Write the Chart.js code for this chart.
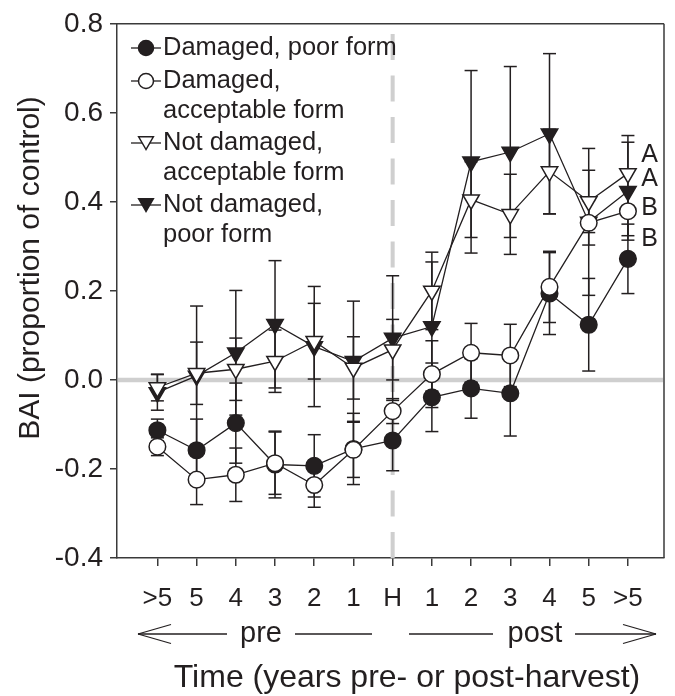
<!DOCTYPE html>
<html>
<head>
<meta charset="utf-8">
<script src="https://cdn.jsdelivr.net/npm/chart.js@4.4.1/dist/chart.umd.min.js"></script>
<style>
  html, body { margin: 0; padding: 0; background: #fff; }
  #wrap { width: 675px; height: 696px; }
</style>
</head>
<body>
<div id="wrap"><canvas id="c" width="675" height="696"></canvas></div>
<script>
// time categories (years pre / post harvest)
const xLabels = ['>5', '5', '4', '3', '2', '1', 'H', '1', '2', '3', '4', '5', '>5'];
const yTicks = [-0.4, -0.2, 0.0, 0.2, 0.4, 0.6, 0.8];

// BAI, proportion of control
const damagedPoor      = [-0.113, -0.158, -0.097, -0.190, -0.193, -0.155, -0.136, -0.039, -0.019, -0.030, 0.194, 0.124, 0.272];
const damagedPoorErr   = [0.025, 0.070, 0.090, 0.075, 0.070, 0.080, 0.068, 0.077, 0.067, 0.096, 0.092, 0.104, 0.078];
const damagedAcc       = [-0.150, -0.224, -0.213, -0.187, -0.236, -0.157, -0.070, 0.013, 0.061, 0.055, 0.209, 0.353, 0.379];
const damagedAccErr    = [0.020, 0.056, 0.060, 0.070, 0.050, 0.062, 0.028, 0.075, 0.066, 0.070, 0.080, 0.050, 0.055];
const notDamagedAcc    = [-0.017, 0.015, 0.024, 0.042, 0.087, 0.027, 0.068, 0.200, 0.405, 0.372, 0.468, 0.401, 0.464];
const notDamagedAccErr = [0.030, 0.070, 0.070, 0.070, 0.085, 0.070, 0.068, 0.087, 0.085, 0.090, 0.095, 0.070, 0.085];
const notDamagedPoor   = [-0.028, 0.009, 0.061, 0.125, 0.075, 0.042, 0.094, 0.120, 0.490, 0.512, 0.553, 0.355, 0.424];
const notDamagedPoorErr= [0.040, 0.157, 0.140, 0.143, 0.135, 0.135, 0.140, 0.145, 0.205, 0.192, 0.180, 0.165, 0.110];

// significance letters at the last category
const sigLetters = ['A', 'A', 'B', 'B'];
const sigY = [0.505, 0.450, 0.387, 0.317];

const legendText = [
  ['Damaged, poor form'],
  ['Damaged,', 'acceptable form'],
  ['Not damaged,', 'acceptable form'],
  ['Not damaged,', 'poor form']
];

const INK = '#231f20';
const FONT = '"Liberation Sans", Arial, Helvetica, sans-serif';

const toXY = arr => arr.map((v, i) => ({ x: i, y: v }));

function series(label, values, errs, style, filled, order) {
  return {
    label: label,
    data: toXY(values),
    errors: errs,
    borderColor: INK,
    borderWidth: 1.3,
    pointStyle: style,
    pointRotation: style === 'triangle' ? 180 : 0,
    pointRadius: style === 'triangle' ? 9.5 : 8.3,
    pointBorderWidth: 1.5,
    pointBorderColor: INK,
    pointBackgroundColor: filled ? INK : '#ffffff',
    fill: false,
    tension: 0,
    order: order
  };
}

const datasets = [
  series('Damaged, poor form', damagedPoor, damagedPoorErr, 'circle', true, 4),
  series('Damaged, acceptable form', damagedAcc, damagedAccErr, 'circle', false, 2),
  series('Not damaged, acceptable form', notDamagedAcc, notDamagedAccErr, 'triangle', false, 1),
  series('Not damaged, poor form', notDamagedPoor, notDamagedPoorErr, 'triangle', true, 3)
];

function marker(ctx, style, filled, x, y, r) {
  ctx.save();
  ctx.beginPath();
  if (style === 'circle') {
    ctx.arc(x, y, r, 0, Math.PI * 2);
  } else {
    ctx.moveTo(x, y + r);
    ctx.lineTo(x - 0.866 * r, y - 0.5 * r);
    ctx.lineTo(x + 0.866 * r, y - 0.5 * r);
    ctx.closePath();
  }
  ctx.fillStyle = filled ? INK : '#fff';
  ctx.fill();
  ctx.lineWidth = 1.5;
  ctx.strokeStyle = INK;
  ctx.stroke();
  ctx.restore();
}

function line(ctx, x1, y1, x2, y2) {
  ctx.beginPath();
  ctx.moveTo(x1, y1);
  ctx.lineTo(x2, y2);
  ctx.stroke();
}

const extras = {
  id: 'extras',
  beforeDatasetsDraw(chart) {
    const { ctx, chartArea: a, scales: { x, y } } = chart;
    ctx.save();
    // zero reference line
    ctx.strokeStyle = '#cfcfcf';
    ctx.lineWidth = 4.5;
    line(ctx, a.left + 1, y.getPixelForValue(0), a.right - 1, y.getPixelForValue(0));
    // harvest dashed line
    ctx.lineWidth = 4;
    ctx.setLineDash([26, 15.5]);
    const hx = x.getPixelForValue(6);
    line(ctx, hx, a.bottom, hx, a.top);
    ctx.setLineDash([]);

    // error bars
    ctx.strokeStyle = INK;
    ctx.lineWidth = 1.5;
    chart.data.datasets.forEach(ds => {
      ds.data.forEach((p, i) => {
        const e = ds.errors[i];
        const px = x.getPixelForValue(p.x);
        const top = y.getPixelForValue(p.y + e);
        const bot = y.getPixelForValue(p.y - e);
        line(ctx, px, top, px, bot);
        line(ctx, px - 6.5, top, px + 6.5, top);
        line(ctx, px - 6.5, bot, px + 6.5, bot);
      });
    });
    ctx.restore();
  },
  afterDraw(chart) {
    const { ctx, chartArea: a, scales: { x, y } } = chart;
    ctx.save();
    // top and right frame
    ctx.strokeStyle = '#3a3a3a';
    ctx.lineWidth = 1.5;
    line(ctx, a.left, a.top, a.right, a.top);
    line(ctx, a.right, a.top, a.right, a.bottom);

    ctx.fillStyle = INK;
    ctx.strokeStyle = INK;
    ctx.textBaseline = 'middle';

    // legend
    const styles = [['circle', true], ['circle', false], ['triangle', false], ['triangle', true]];
    const rows = [48, 81, 143, 205];
    ctx.font = '25.5px ' + FONT;
    ctx.textAlign = 'left';
    legendText.forEach((lines, k) => {
      const ly = rows[k];
      ctx.lineWidth = 1.3;
      line(ctx, 131, ly, 161, ly);
      marker(ctx, styles[k][0], styles[k][1], 146, styles[k][0] === 'triangle' ? ly - 2 : ly, styles[k][0] === 'triangle' ? 8.5 : 7.5);
      lines.forEach((t, j) => ctx.fillText(t, 163, ly + j * 29.5));
    });

    // significance letters
    ctx.font = '25px ' + FONT;
    ctx.textAlign = 'center';
    sigLetters.forEach((t, k) => ctx.fillText(t, x.getPixelForValue(12.55), y.getPixelForValue(sigY[k])));

    // pre / post row
    const ry = 634;
    ctx.lineWidth = 1.3;
    ctx.font = '29px ' + FONT;
    ctx.fillText('pre', 261, ry);
    ctx.fillText('post', 535, ry);
    line(ctx, 138, ry, 227, ry);
    line(ctx, 138, ry, 171, ry - 9.5);
    line(ctx, 138, ry, 171, ry + 9.5);
    line(ctx, 295, ry, 372, ry);
    line(ctx, 409, ry, 493, ry);
    line(ctx, 575, ry, 656, ry);
    line(ctx, 656, ry, 623, ry - 9.5);
    line(ctx, 656, ry, 623, ry + 9.5);

    // axis titles
    ctx.font = '32px ' + FONT;
    ctx.fillText('Time (years pre- or post-harvest)', 407, 678);
    ctx.font = '30px ' + FONT;
    ctx.translate(31, 268);
    ctx.rotate(-Math.PI / 2);
    ctx.fillText('BAI (proportion of control)', 0, 0);
    ctx.restore();
  }
};

new Chart(document.getElementById('c'), {
  type: 'line',
  data: { datasets: datasets },
  options: {
    responsive: false,
    animation: false,
    layout: { padding: { top: 20, right: 8, left: 0, bottom: 0 } },
    plugins: { legend: { display: false }, tooltip: { enabled: false } },
    scales: {
      x: {
        type: 'linear',
        min: -1.03,
        max: 12.92,
        afterBuildTicks: s => { s.ticks = xLabels.map((_, i) => ({ value: i })); },
        afterFit: s => { s.height = 138; },
        ticks: {
          callback: v => xLabels[v],
          autoSkip: false,
          maxRotation: 0,
          color: INK,
          padding: 17,
          font: { size: 26, family: FONT }
        },
        grid: { drawOnChartArea: false, tickLength: 8, color: '#3a3a3a', lineWidth: 1.5 },
        border: { color: '#3a3a3a', width: 1.5 }
      },
      y: {
        min: -0.4,
        max: 0.8,
        afterBuildTicks: s => { s.ticks = yTicks.map(v => ({ value: v })); },
        afterFit: s => { s.width = 117; },
        ticks: {
          callback: v => (Math.abs(v) < 1e-9 ? 0 : v).toFixed(1),
          color: INK,
          padding: 7,
          font: { size: 28, family: FONT }
        },
        grid: { drawOnChartArea: false, tickLength: 7, color: '#3a3a3a', lineWidth: 1.5 },
        border: { color: '#3a3a3a', width: 1.5 }
      }
    }
  },
  plugins: [extras]
});
</script>
</body>
</html>
